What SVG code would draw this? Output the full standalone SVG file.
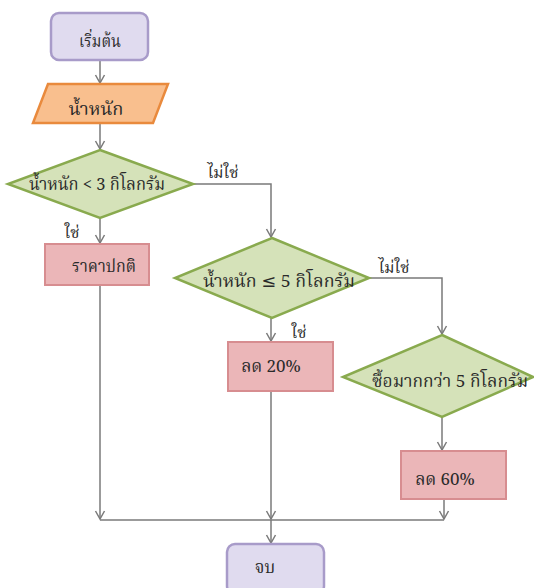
<svg xmlns="http://www.w3.org/2000/svg" width="534" height="588" viewBox="0 0 534 588">
  <style>
    text { font-family: "Noto Serif Thai", "Noto Sans Thai", "Noto Sans", "DejaVu Sans", sans-serif; font-size: 17px; fill: #2a2a2a; text-anchor: middle; }
    .lbl { font-size: 16px; }
    .term { fill: #e0dbef; stroke: #a89bc9; stroke-width: 2.5; }
    .io { fill: #f9bf8e; stroke: #e98a3d; stroke-width: 2.5; }
    .dec { fill: #d5e2b9; stroke: #89aa4e; stroke-width: 2.5; }
    .proc { fill: #ebb6b8; stroke: #d78d90; stroke-width: 2; }
    .conn { fill: none; stroke: #7a7a7a; stroke-width: 1.5; }
  </style>
  <defs>
    <marker id="arrow" markerUnits="userSpaceOnUse" markerWidth="12" markerHeight="12" refX="10" refY="6" orient="auto">
      <path d="M2,1.5 L10,6 L2,10.5" fill="none" stroke="#7a7a7a" stroke-width="1.5"/>
    </marker>
  </defs>

  <rect width="534" height="588" fill="#ffffff"/>

  <!-- connectors -->
  <g id="connectors">
    <path class="conn" d="M100,60 V83" marker-end="url(#arrow)"/>
    <path class="conn" d="M100,123 V149" marker-end="url(#arrow)"/>
    <path class="conn" d="M100,218 V243" marker-end="url(#arrow)"/>
    <path class="conn" d="M193,184 H271 V237" marker-end="url(#arrow)"/>
    <path class="conn" d="M271,318 V341" marker-end="url(#arrow)"/>
    <path class="conn" d="M369,278 H442 V334" marker-end="url(#arrow)"/>
    <path class="conn" d="M442,417 V450" marker-end="url(#arrow)"/>
    <path class="conn" d="M100,285 V519" marker-end="url(#arrow)"/>
    <path class="conn" d="M271,391 V519" marker-end="url(#arrow)"/>
    <path class="conn" d="M444,499 V519" marker-end="url(#arrow)"/>
    <path class="conn" d="M100,520 H444"/>
    <path class="conn" d="M271,520 V543" marker-end="url(#arrow)"/>
    <text class="lbl" x="223" y="178">ไม่ใช่</text>
    <text class="lbl" x="72" y="238">ใช่</text>
    <text class="lbl" x="394" y="273">ไม่ใช่</text>
    <text class="lbl" x="299" y="338">ใช่</text>
  </g>

  <g id="start">
    <rect class="term" x="51" y="13" width="97" height="47" rx="8"/>
    <text x="100" y="47" textLength="42" lengthAdjust="spacingAndGlyphs">เริ่มต้น</text>
  </g>

  <g id="input-weight">
    <polygon class="io" points="48,84 168,84 153,123 33,123"/>
    <text x="96" y="115" textLength="55" lengthAdjust="spacingAndGlyphs">น้ำหนัก</text>
  </g>

  <g id="check-under-3">
    <polygon class="dec" points="100,150 193,184 100,218 8,184"/>
    <text x="97" y="190" textLength="136" lengthAdjust="spacingAndGlyphs">น้ำหนัก &lt; 3 กิโลกรัม</text>
  </g>

  <g id="normal-price">
    <rect class="proc" x="45" y="244" width="104" height="41"/>
    <text x="104" y="272" textLength="64" lengthAdjust="spacingAndGlyphs">ราคาปกติ</text>
  </g>

  <g id="check-upto-5">
    <polygon class="dec" points="272,238 369,278 272,318 175,278"/>
    <text x="279" y="287" textLength="152" lengthAdjust="spacingAndGlyphs">น้ำหนัก ≤ 5 กิโลกรัม</text>
  </g>

  <g id="discount-20">
    <rect class="proc" x="228" y="342" width="105" height="49"/>
    <text x="271" y="372">ลด 20%</text>
  </g>

  <g id="check-over-5">
    <polygon class="dec" points="442,335 533,377 442,417 343,377"/>
    <text x="450" y="387" textLength="156" lengthAdjust="spacingAndGlyphs">ซื้อมากกว่า 5 กิโลกรัม</text>
  </g>

  <g id="discount-60">
    <rect class="proc" x="401" y="451" width="105" height="48"/>
    <text x="445" y="485">ลด 60%</text>
  </g>

  <g id="end">
    <rect class="term" x="227" y="544" width="97" height="50" rx="8"/>
    <text x="265" y="573">จบ</text>
  </g>
</svg>
